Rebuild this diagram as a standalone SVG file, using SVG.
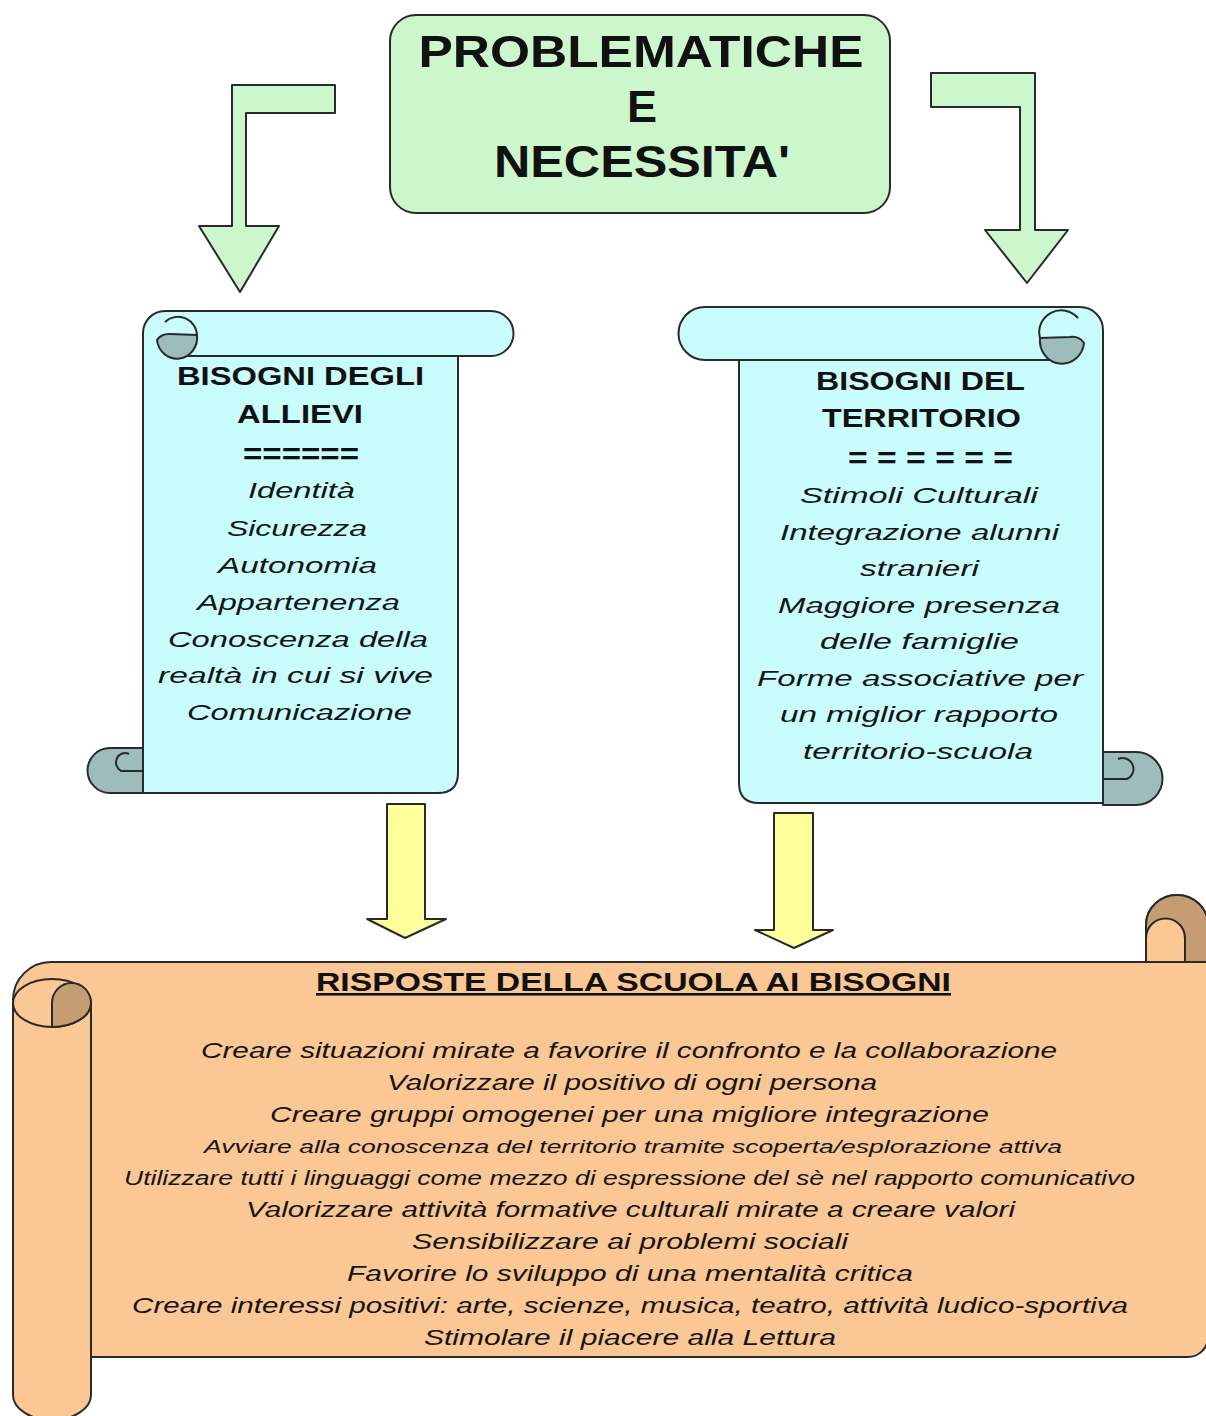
<svg xmlns="http://www.w3.org/2000/svg" width="1206" height="1416" viewBox="0 0 1206 1416">
<style>
.bg{fill:#ffffff}
.ln{stroke:#2a2a2a;stroke-width:2;stroke-linejoin:round}
.green{fill:#ccf6cc}
.cyan{fill:#c9fcfc}
.curlb{fill:#9dbdbd}
.orange{fill:#fbc794}
.brown{fill:#c69c72}
.yellow{fill:#ffff9c}
.none{fill:none}
.tb{font-family:"Liberation Sans",Arial,sans-serif;font-weight:bold;fill:#111;text-anchor:middle}
.ti{font-family:"Liberation Sans",Arial,sans-serif;font-style:italic;fill:#151515;text-anchor:middle}
</style>
<rect class="bg" x="0" y="0" width="1206" height="1416"/>

<g id="connectors">
  <polygon id="arrow-top-left" class="green ln" points="232,85 335,85 335,113 246,113 246,226 279,226 240,292 199,226 232,226"/>
  <polygon id="arrow-top-right" class="green ln" points="931,73 1035,73 1035,230 1068,230 1027,283 985,230 1020,230 1020,107 931,107"/>
  <polygon id="arrow-low-left" class="yellow ln" points="387,804 425,804 425,919 446,919 405,938 367,919 387,919"/>
  <polygon id="arrow-low-right" class="yellow ln" points="774,813 813,813 813,930 833,930 794,948 755,930 774,930"/>
</g>

<g id="node-problematiche">
  <rect class="green ln" x="390" y="15" width="500" height="198" rx="26" ry="26"/>
  <text class="tb" x="641" y="67" font-size="45" textLength="445" lengthAdjust="spacingAndGlyphs">PROBLEMATICHE</text>
  <text class="tb" x="642" y="122" font-size="45">E</text>
  <text class="tb" x="642" y="177" font-size="45" textLength="296" lengthAdjust="spacingAndGlyphs">NECESSITA'</text>
</g>

<g id="node-allievi">
  <path class="cyan ln" d="M165,311 H491 A22.5,22.5 0 0 1 491,356 H458 V773 Q458,793 438,793 H143 V333 A22,22 0 0 1 165,311 Z"/>
  <path class="none ln" d="M458,356 H178"/>
  <path class="curlb ln" d="M197,335 A20,21 0 0 1 157,340 A14,12 0 0 1 170,334 Z"/>
  <path class="none ln" d="M165,322 A19,19 0 0 1 197,336"/>
  <path class="curlb ln" d="M143,748 H110 A22.5,22.5 0 0 0 110,793 H143 Z"/>
  <path class="none ln" d="M143,771 H121 A8,8.5 0 1 1 129,754"/>
  <text class="tb" x="300.5" y="385" font-size="25" textLength="247" lengthAdjust="spacingAndGlyphs">BISOGNI DEGLI</text>
  <text class="tb" x="300" y="423" font-size="25" textLength="126" lengthAdjust="spacingAndGlyphs">ALLIEVI</text>
  <text class="tb" x="301" y="464" font-size="30" textLength="116" lengthAdjust="spacingAndGlyphs">======</text>
  <text class="ti" x="301.5" y="498" font-size="22" textLength="107" lengthAdjust="spacingAndGlyphs">Identità</text>
  <text class="ti" x="297" y="536" font-size="22" textLength="140" lengthAdjust="spacingAndGlyphs">Sicurezza</text>
  <text class="ti" x="297.5" y="573" font-size="22" textLength="159" lengthAdjust="spacingAndGlyphs">Autonomia</text>
  <text class="ti" x="298.5" y="610" font-size="22" textLength="203" lengthAdjust="spacingAndGlyphs">Appartenenza</text>
  <text class="ti" x="298" y="647" font-size="22" textLength="260" lengthAdjust="spacingAndGlyphs">Conoscenza della</text>
  <text class="ti" x="295.5" y="683" font-size="22" textLength="275" lengthAdjust="spacingAndGlyphs">realtà in cui si vive</text>
  <text class="ti" x="299.5" y="720" font-size="22" textLength="225" lengthAdjust="spacingAndGlyphs">Comunicazione</text>
</g>

<g id="node-territorio">
  <path class="cyan ln" d="M705,307 H1080 A23,23 0 0 1 1103,330 V803 H759 Q739,803 739,783 V360 H705 A26.5,26.5 0 0 1 705,307 Z"/>
  <path class="none ln" d="M739,360 H1062"/>
  <path class="curlb ln" d="M1040,338 A21,22 0 0 0 1084,343 A14,12 0 0 0 1070,337 Z"/>
  <path class="none ln" d="M1040,338 A22,22 0 0 1 1078,318"/>
  <path class="curlb ln" d="M1103,752 H1136 A26.5,26.5 0 0 1 1136,805 H1103 Z"/>
  <path class="none ln" d="M1103,779 H1127 A9,9 0 1 0 1118,759"/>
  <text class="tb" x="920.5" y="390" font-size="25" textLength="209" lengthAdjust="spacingAndGlyphs">BISOGNI DEL</text>
  <text class="tb" x="921.5" y="427" font-size="25" textLength="199" lengthAdjust="spacingAndGlyphs">TERRITORIO</text>
  <text class="tb" x="930.5" y="468" font-size="30" textLength="165" lengthAdjust="spacingAndGlyphs">= = = = = =</text>
  <text class="ti" x="919" y="503" font-size="22" textLength="238" lengthAdjust="spacingAndGlyphs">Stimoli Culturali</text>
  <text class="ti" x="919.5" y="540" font-size="22" textLength="279" lengthAdjust="spacingAndGlyphs">Integrazione alunni</text>
  <text class="ti" x="919.5" y="576" font-size="22" textLength="119" lengthAdjust="spacingAndGlyphs">stranieri</text>
  <text class="ti" x="919" y="613" font-size="22" textLength="282" lengthAdjust="spacingAndGlyphs">Maggiore presenza</text>
  <text class="ti" x="919.5" y="649" font-size="22" textLength="199" lengthAdjust="spacingAndGlyphs">delle famiglie</text>
  <text class="ti" x="920" y="686" font-size="22" textLength="326" lengthAdjust="spacingAndGlyphs">Forme associative per</text>
  <text class="ti" x="919" y="722" font-size="22" textLength="278" lengthAdjust="spacingAndGlyphs">un miglior rapporto</text>
  <text class="ti" x="918" y="759" font-size="22" textLength="230" lengthAdjust="spacingAndGlyphs">territorio-scuola</text>
</g>

<g id="node-risposte">
  <path class="orange ln" d="M13,1000 A38,38 0 0 1 51,962 H1146 V925 A31,30 0 0 1 1208,925 V1337 A20,20 0 0 1 1188,1357 H91 V1395 A39,25 0 0 1 13,1395 Z"/>
  <path class="brown ln" d="M1146,962 V925 A31,30 0 0 1 1208,925 V962 Z"/>
  <path class="orange ln" d="M1146,962 V938 A19.5,19.5 0 0 1 1185,938 V962 Z"/>
  <ellipse class="orange ln" cx="52" cy="1003" rx="39" ry="24"/>
  <path class="brown ln" d="M52,1027 V1003 A19.5,20 0 0 1 91,1003 A39,24 0 0 1 52,1027 Z"/>
  <path class="none ln" d="M91,1003 V1395"/>
  <text class="tb" x="633.5" y="991" font-size="26" textLength="635" lengthAdjust="spacingAndGlyphs" text-decoration="underline">RISPOSTE DELLA SCUOLA AI BISOGNI</text>
  <text class="ti" x="629" y="1058" font-size="22" textLength="856" lengthAdjust="spacingAndGlyphs">Creare situazioni mirate a favorire il confronto e la collaborazione</text>
  <text class="ti" x="632" y="1090" font-size="22" textLength="490" lengthAdjust="spacingAndGlyphs">Valorizzare il positivo di ogni persona</text>
  <text class="ti" x="629.5" y="1122" font-size="22" textLength="719" lengthAdjust="spacingAndGlyphs">Creare gruppi omogenei per una migliore integrazione</text>
  <text class="ti" x="633" y="1153" font-size="19" textLength="858" lengthAdjust="spacingAndGlyphs">Avviare alla conoscenza del territorio tramite scoperta/esplorazione attiva</text>
  <text class="ti" x="629.5" y="1185" font-size="20" textLength="1011" lengthAdjust="spacingAndGlyphs">Utilizzare tutti i linguaggi come mezzo di espressione del sè nel rapporto comunicativo</text>
  <text class="ti" x="630.5" y="1217" font-size="22" textLength="769" lengthAdjust="spacingAndGlyphs">Valorizzare attività formative culturali mirate a creare valori</text>
  <text class="ti" x="630" y="1249" font-size="22" textLength="436" lengthAdjust="spacingAndGlyphs">Sensibilizzare ai problemi sociali</text>
  <text class="ti" x="630" y="1281" font-size="22" textLength="566" lengthAdjust="spacingAndGlyphs">Favorire lo sviluppo di una mentalità critica</text>
  <text class="ti" x="630" y="1313" font-size="22" textLength="996" lengthAdjust="spacingAndGlyphs">Creare interessi positivi: arte, scienze, musica, teatro, attività ludico-sportiva</text>
  <text class="ti" x="630" y="1345" font-size="22" textLength="412" lengthAdjust="spacingAndGlyphs">Stimolare il piacere alla Lettura</text>
</g>
</svg>
